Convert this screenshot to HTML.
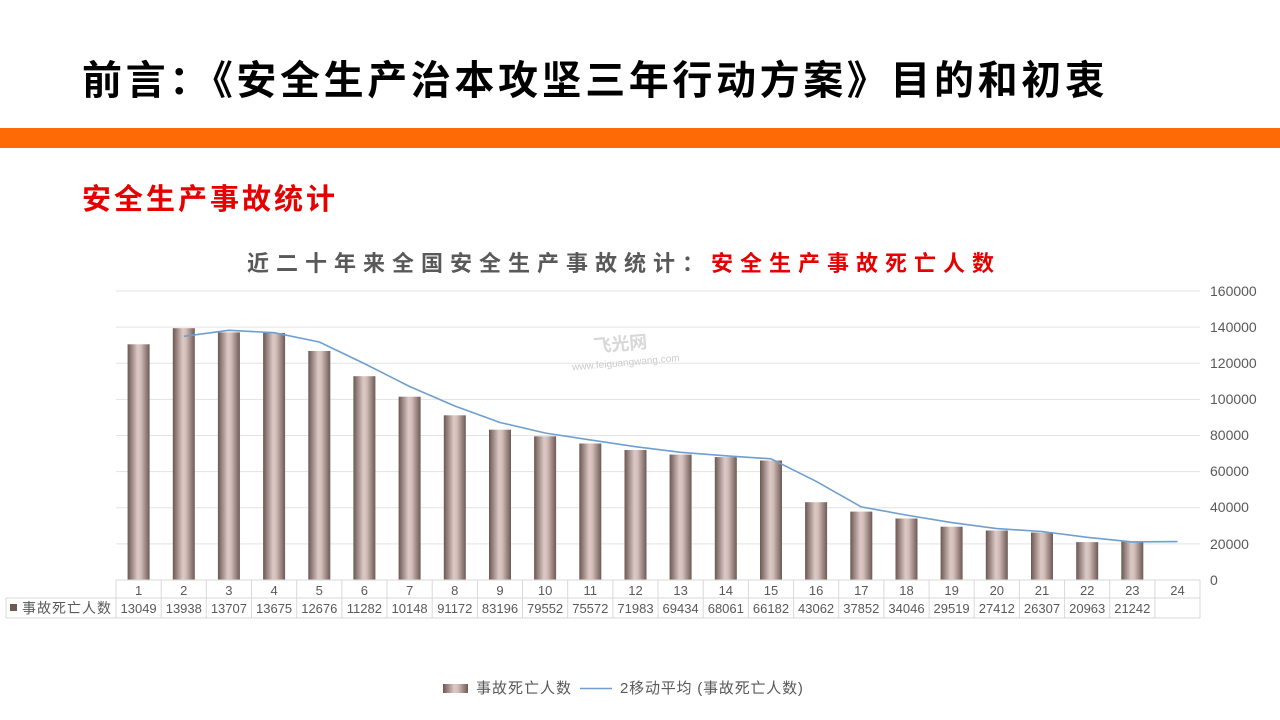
<!DOCTYPE html>
<html><head><meta charset="utf-8"><style>
html,body{margin:0;padding:0;background:#fff;}
body{width:1280px;height:720px;position:relative;overflow:hidden;font-family:"Liberation Sans","Noto Sans CJK SC",sans-serif;}
.t{position:absolute;left:82px;top:48px;font-size:40px;font-weight:bold;color:#000;white-space:nowrap;letter-spacing:3.6px;}
.bar{position:absolute;left:0;top:128px;width:1280px;height:20px;background:#fe6a06;}
.s{position:absolute;left:82px;top:176px;font-size:29px;font-weight:bold;color:#e60000;white-space:nowrap;letter-spacing:3px;}
</style></head><body>
<div class="t">前言：《安全生产治本攻坚三年行动方案》目的和初衷</div>
<div class="bar"></div>
<div class="s">安全生产事故统计</div>
<svg width="1280" height="720" style="position:absolute;left:0;top:0" font-family="Liberation Sans, Noto Sans CJK SC, sans-serif">
<defs><linearGradient id="g" x1="0" x2="1" y1="0" y2="0">
<stop offset="0" stop-color="#6b5752"/><stop offset="0.45" stop-color="#dcc9c5"/><stop offset="0.6" stop-color="#d2bdb9"/><stop offset="1" stop-color="#6e5a55"/></linearGradient></defs>
<text x="247" y="271" font-size="22" font-weight="bold" fill="#595959" letter-spacing="7">近二十年来全国安全生产事故统计：<tspan fill="#e60000">安全生产事故死亡人数</tspan></text>
<g stroke="#e3e3e3" stroke-width="1">
<line x1="116" x2="1200" y1="291" y2="291"/><line x1="116" x2="1200" y1="327.1" y2="327.1"/><line x1="116" x2="1200" y1="363.2" y2="363.2"/><line x1="116" x2="1200" y1="399.4" y2="399.4"/><line x1="116" x2="1200" y1="435.5" y2="435.5"/><line x1="116" x2="1200" y1="471.6" y2="471.6"/><line x1="116" x2="1200" y1="507.7" y2="507.7"/><line x1="116" x2="1200" y1="543.9" y2="543.9"/>
</g>
<g font-size="14" fill="#595959">
<text x="1210" y="296">160000</text><text x="1210" y="332">140000</text><text x="1210" y="368">120000</text><text x="1210" y="404">100000</text><text x="1210" y="440">80000</text><text x="1210" y="476">60000</text><text x="1210" y="512">40000</text><text x="1210" y="549">20000</text><text x="1210" y="585">0</text>
</g>
<text x="572" y="368" font-size="10" fill="#ccc" transform="rotate(-5 600 365)">www.feiguangwang.com</text>
<text x="595" y="352" font-size="18" font-weight="bold" fill="#d8d8d8" transform="rotate(-5 600 365)">飞光网</text>
<g fill="url(#g)">
<rect x="127.6" y="344.3" width="22" height="235.7"/>
<rect x="172.8" y="328.2" width="22" height="251.8"/>
<rect x="217.9" y="332.4" width="22" height="247.6"/>
<rect x="263.1" y="333" width="22" height="247"/>
<rect x="308.3" y="351" width="22" height="229"/>
<rect x="353.4" y="376.2" width="22" height="203.8"/>
<rect x="398.6" y="396.7" width="22" height="183.3"/>
<rect x="443.8" y="415.3" width="22" height="164.7"/>
<rect x="489" y="429.7" width="22" height="150.3"/>
<rect x="534.1" y="436.3" width="22" height="143.7"/>
<rect x="579.3" y="443.5" width="22" height="136.5"/>
<rect x="624.5" y="450" width="22" height="130"/>
<rect x="669.6" y="454.6" width="22" height="125.4"/>
<rect x="714.8" y="457.1" width="22" height="122.9"/>
<rect x="760" y="460.5" width="22" height="119.5"/>
<rect x="805.1" y="502.2" width="22" height="77.8"/>
<rect x="850.3" y="511.6" width="22" height="68.4"/>
<rect x="895.5" y="518.5" width="22" height="61.5"/>
<rect x="940.6" y="526.7" width="22" height="53.3"/>
<rect x="985.8" y="530.5" width="22" height="49.5"/>
<rect x="1031" y="532.5" width="22" height="47.5"/>
<rect x="1076.2" y="542.1" width="22" height="37.9"/>
<rect x="1121.3" y="541.6" width="22" height="38.4"/>
</g>
<polyline fill="none" stroke="#6f9fd0" stroke-width="1.6" stroke-linejoin="round" points="183.8,336.3 228.9,330.3 274.1,332.7 319.3,342 364.4,363.6 409.6,386.5 454.8,406 500,422.5 545.1,433 590.3,439.9 635.5,446.7 680.6,452.3 725.8,455.8 771,458.8 816.1,481.3 861.3,506.9 906.5,515.1 951.6,522.6 996.8,528.6 1042,531.5 1087.2,537.3 1132.3,541.9 1177.5,541.6"/>
<g stroke="#d9d9d9" stroke-width="1" fill="none">
<line x1="116" x2="1200" y1="580" y2="580"/><line x1="6" x2="1200" y1="598" y2="598"/><line x1="6" x2="1200" y1="618" y2="618"/>
<line x1="6" x2="6" y1="598" y2="618"/>
<line x1="116" x2="116" y1="580" y2="618"/><line x1="161.2" x2="161.2" y1="580" y2="618"/><line x1="206.3" x2="206.3" y1="580" y2="618"/><line x1="251.5" x2="251.5" y1="580" y2="618"/><line x1="296.7" x2="296.7" y1="580" y2="618"/><line x1="341.9" x2="341.9" y1="580" y2="618"/><line x1="387" x2="387" y1="580" y2="618"/><line x1="432.2" x2="432.2" y1="580" y2="618"/><line x1="477.4" x2="477.4" y1="580" y2="618"/><line x1="522.5" x2="522.5" y1="580" y2="618"/><line x1="567.7" x2="567.7" y1="580" y2="618"/><line x1="612.9" x2="612.9" y1="580" y2="618"/><line x1="658" x2="658" y1="580" y2="618"/><line x1="703.2" x2="703.2" y1="580" y2="618"/><line x1="748.4" x2="748.4" y1="580" y2="618"/><line x1="793.6" x2="793.6" y1="580" y2="618"/><line x1="838.7" x2="838.7" y1="580" y2="618"/><line x1="883.9" x2="883.9" y1="580" y2="618"/><line x1="929.1" x2="929.1" y1="580" y2="618"/><line x1="974.2" x2="974.2" y1="580" y2="618"/><line x1="1019.4" x2="1019.4" y1="580" y2="618"/><line x1="1064.6" x2="1064.6" y1="580" y2="618"/><line x1="1109.7" x2="1109.7" y1="580" y2="618"/><line x1="1154.9" x2="1154.9" y1="580" y2="618"/><line x1="1200" x2="1200" y1="580" y2="618"/>
</g>
<g font-size="13" fill="#595959" text-anchor="middle">
<text x="138.6" y="595">1</text><text x="183.8" y="595">2</text><text x="228.9" y="595">3</text><text x="274.1" y="595">4</text><text x="319.3" y="595">5</text><text x="364.4" y="595">6</text><text x="409.6" y="595">7</text><text x="454.8" y="595">8</text><text x="500" y="595">9</text><text x="545.1" y="595">10</text><text x="590.3" y="595">11</text><text x="635.5" y="595">12</text><text x="680.6" y="595">13</text><text x="725.8" y="595">14</text><text x="771" y="595">15</text><text x="816.1" y="595">16</text><text x="861.3" y="595">17</text><text x="906.5" y="595">18</text><text x="951.6" y="595">19</text><text x="996.8" y="595">20</text><text x="1042" y="595">21</text><text x="1087.2" y="595">22</text><text x="1132.3" y="595">23</text><text x="1177.5" y="595">24</text>
</g>
<g font-size="13" fill="#595959" text-anchor="middle">
<text x="138.6" y="613">13049</text><text x="183.8" y="613">13938</text><text x="228.9" y="613">13707</text><text x="274.1" y="613">13675</text><text x="319.3" y="613">12676</text><text x="364.4" y="613">11282</text><text x="409.6" y="613">10148</text><text x="454.8" y="613">91172</text><text x="500" y="613">83196</text><text x="545.1" y="613">79552</text><text x="590.3" y="613">75572</text><text x="635.5" y="613">71983</text><text x="680.6" y="613">69434</text><text x="725.8" y="613">68061</text><text x="771" y="613">66182</text><text x="816.1" y="613">43062</text><text x="861.3" y="613">37852</text><text x="906.5" y="613">34046</text><text x="951.6" y="613">29519</text><text x="996.8" y="613">27412</text><text x="1042" y="613">26307</text><text x="1087.2" y="613">20963</text><text x="1132.3" y="613">21242</text>
</g>
<rect x="10" y="604" width="7" height="7" fill="#6e5a55"/>
<text x="22" y="613" font-size="14" fill="#595959" letter-spacing="1">事故死亡人数</text>
<rect x="443" y="684" width="25" height="9" fill="url(#g)"/>
<text x="476" y="693" font-size="15" fill="#595959" letter-spacing="1">事故死亡人数</text>
<line x1="580" x2="612" y1="688.5" y2="688.5" stroke="#6f9fd0" stroke-width="1.6"/>
<text x="620" y="693" font-size="15" fill="#595959" letter-spacing="0.8">2移动平均 (事故死亡人数)</text>
</svg>
</body></html>
